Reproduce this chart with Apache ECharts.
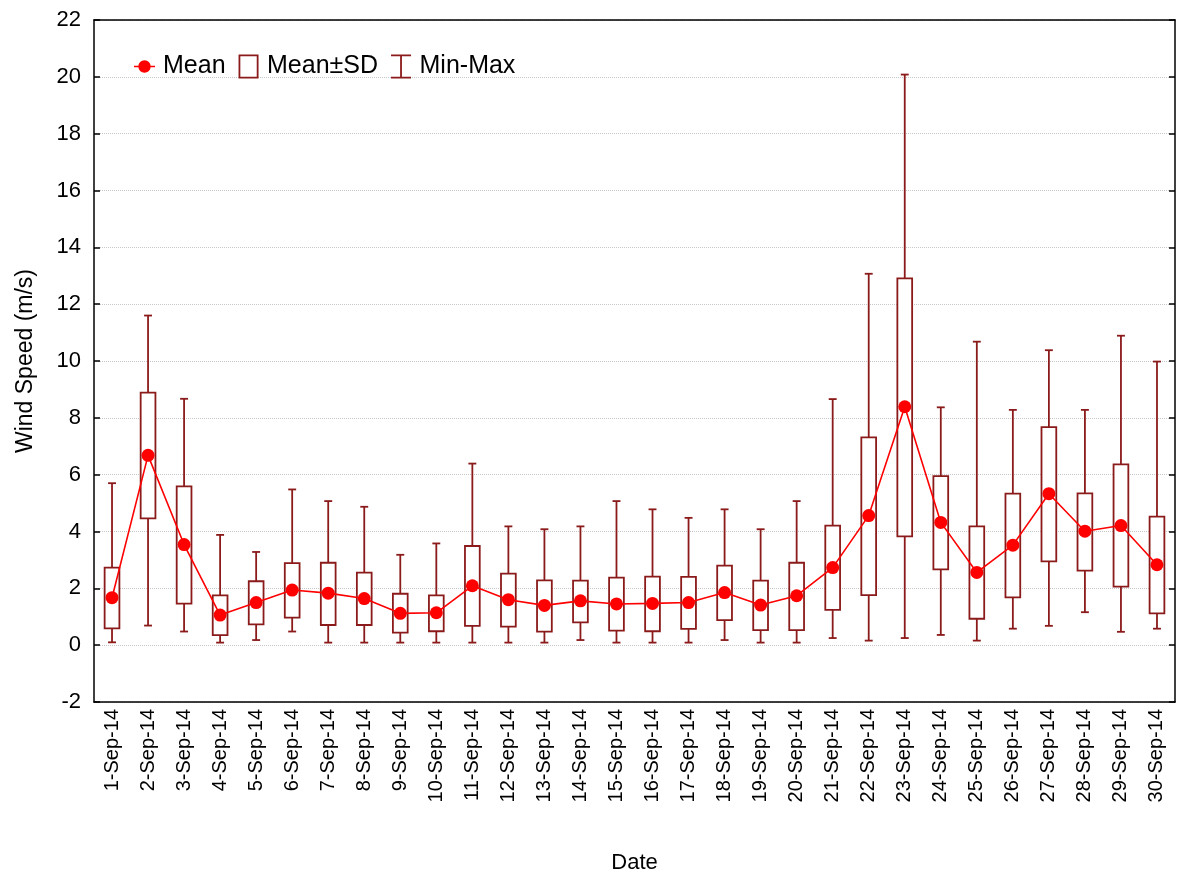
<!DOCTYPE html>
<html>
<head>
<meta charset="utf-8">
<script src="https://cdn.jsdelivr.net/npm/echarts@6/dist/echarts.min.js"></script>
<style>html,body{margin:0;padding:0;background:#fff}#c{width:1179px;height:875px}</style>
</head>
<body>
<div id="c"></div>
<script>
var dates = ['1-Sep-14','2-Sep-14','3-Sep-14','4-Sep-14','5-Sep-14','6-Sep-14','7-Sep-14','8-Sep-14','9-Sep-14','10-Sep-14',
  '11-Sep-14','12-Sep-14','13-Sep-14','14-Sep-14','15-Sep-14','16-Sep-14','17-Sep-14','18-Sep-14','19-Sep-14','20-Sep-14',
  '21-Sep-14','22-Sep-14','23-Sep-14','24-Sep-14','25-Sep-14','26-Sep-14','27-Sep-14','28-Sep-14','29-Sep-14','30-Sep-14'];
var means = [1.67,6.68,3.54,1.06,1.50,1.94,1.83,1.64,1.12,1.14,2.09,1.60,1.40,1.56,1.45,1.47,1.50,1.85,1.41,1.74,2.73,4.56,8.39,4.32,2.56,3.52,5.33,4.01,4.21,2.83];
var sdLow = [0.59,4.46,1.46,0.35,0.73,0.97,0.71,0.71,0.44,0.49,0.68,0.65,0.48,0.80,0.51,0.49,0.57,0.88,0.53,0.53,1.24,1.76,3.83,2.67,0.93,1.68,2.95,2.62,2.06,1.12];
var sdHigh = [2.73,8.89,5.59,1.75,2.25,2.89,2.90,2.55,1.81,1.75,3.49,2.52,2.28,2.27,2.38,2.41,2.40,2.80,2.27,2.90,4.21,7.31,12.91,5.95,4.18,5.33,7.67,5.34,6.36,4.52];
var mins = [0.10,0.69,0.48,0.09,0.18,0.48,0.09,0.09,0.09,0.09,0.09,0.09,0.09,0.18,0.09,0.09,0.09,0.18,0.09,0.09,0.25,0.16,0.25,0.36,0.16,0.58,0.68,1.16,0.47,0.58];
var maxs = [5.70,11.60,8.67,3.88,3.28,5.48,5.07,4.87,3.18,3.58,6.39,4.18,4.08,4.18,5.07,4.78,4.48,4.78,4.08,5.07,8.66,13.07,20.08,8.37,10.68,8.28,10.38,8.28,10.89,9.98];
var yTicks = {min: -2, max: 22, interval: 2};

var DARK = '#8b1a1a';
var FONT = 'Liberation Sans, Arial, sans-serif';

var boxData = dates.map(function(d, i){ return [i, sdLow[i], sdHigh[i]]; });
var whiskerData = dates.map(function(d, i){ return [i, mins[i], maxs[i], sdLow[i], sdHigh[i]]; });

var chart = echarts.init(document.getElementById('c'), null, {renderer: 'canvas'});

var meanIcon = 'path://M0,11.25 L21,11.25 L21,12.75 L0,12.75 Z M4.3,12 A6.2,6.2 0 1,1 16.7,12 A6.2,6.2 0 1,1 4.3,12 Z';
var boxIcon = 'path://M0,0 L20,0 L20,24 L0,24 Z M1.8,1.8 L1.8,22.2 L18.2,22.2 L18.2,1.8 Z';
var whiskerIcon = 'path://M0,0 L20,0 L20,1.8 L10.9,1.8 L10.9,22.2 L20,22.2 L20,24 L0,24 L0,22.2 L9.1,22.2 L9.1,1.8 L0,1.8 Z';

var option = {
  backgroundColor: '#fff',
  animation: false,
  textStyle: {fontFamily: FONT},
  grid: {left: 94, right: 4, top: 20, bottom: 173, containLabel: false, outerBoundsMode: 'none'},
  legend: {
    left: 129, top: 49,
    itemWidth: 21, itemHeight: 24, itemGap: 13,
    symbolKeepAspect: true,
    textStyle: {fontSize: 25, color: '#000', fontFamily: FONT, padding: [0, 0, 0, 3]},
    data: [
      {name: 'Mean', icon: meanIcon},
      {name: 'Mean±SD', icon: boxIcon},
      {name: 'Min-Max', icon: whiskerIcon}
    ]
  },
  xAxis: [{
    type: 'category', data: dates, position: 'bottom', boundaryGap: true,
    name: 'Date', nameLocation: 'middle', nameGap: 150,
    nameTextStyle: {fontSize: 22, color: '#000', fontFamily: FONT},
    axisLine: {onZero: false, lineStyle: {color: '#000', width: 1.5}},
    axisTick: {inside: true, length: 6, interval: 1, alignWithLabel: true, lineStyle: {color: '#000', width: 1.5}},
    axisLabel: {rotate: 90, interval: 0, fontSize: 20, color: '#000', margin: 7, fontFamily: FONT},
    splitLine: {show: false}
  }, {
    type: 'category', data: dates, position: 'top', boundaryGap: true,
    axisLine: {onZero: false, lineStyle: {color: '#000', width: 1.5}},
    axisTick: {inside: true, length: 6, interval: 1, alignWithLabel: true, lineStyle: {color: '#000', width: 1.5}},
    axisLabel: {show: false},
    splitLine: {show: false}
  }],
  yAxis: [{
    type: 'value', min: yTicks.min, max: yTicks.max, interval: yTicks.interval, position: 'left',
    name: 'Wind Speed (m/s)', nameLocation: 'middle', nameGap: 57, nameRotate: 90,
    nameTextStyle: {fontSize: 23, color: '#000', fontFamily: FONT},
    axisLine: {show: true, onZero: false, lineStyle: {color: '#000', width: 1.5}},
    axisTick: {show: true, inside: true, length: 6, lineStyle: {color: '#000', width: 1.5}},
    axisLabel: {fontSize: 22, color: '#000', margin: 13, fontFamily: FONT},
    splitLine: {show: true, lineStyle: {color: '#c8c8c8', type: 'dotted', width: 1}}
  }, {
    type: 'value', min: yTicks.min, max: yTicks.max, interval: yTicks.interval, position: 'right',
    axisLine: {show: true, onZero: false, lineStyle: {color: '#000', width: 1.5}},
    axisTick: {show: true, inside: true, length: 6, lineStyle: {color: '#000', width: 1.5}},
    axisLabel: {show: false},
    splitLine: {show: false}
  }],
  series: [{
    name: 'Min-Max', type: 'custom', z: 2,
    itemStyle: {color: DARK},
    encode: {x: 0, y: [1, 2]},
    data: whiskerData,
    renderItem: function(params, api){
      var i = api.value(0);
      var pMin = api.coord([i, api.value(1)]);
      var pMax = api.coord([i, api.value(2)]);
      var pLo = api.coord([i, api.value(3)]);
      var pHi = api.coord([i, api.value(4)]);
      var band = api.size([1, 0])[0];
      var cap = band * 0.22 / 2;
      var st = {stroke: DARK, lineWidth: 1.8, fill: null};
      return {type: 'group', children: [
        {type: 'line', shape: {x1: pMax[0], y1: pMax[1], x2: pHi[0], y2: pHi[1]}, style: st},
        {type: 'line', shape: {x1: pMax[0] - cap, y1: pMax[1], x2: pMax[0] + cap, y2: pMax[1]}, style: st},
        {type: 'line', shape: {x1: pLo[0], y1: pLo[1], x2: pMin[0], y2: pMin[1]}, style: st},
        {type: 'line', shape: {x1: pMin[0] - cap, y1: pMin[1], x2: pMin[0] + cap, y2: pMin[1]}, style: st}
      ]};
    }
  }, {
    name: 'Mean±SD', type: 'custom', z: 3,
    itemStyle: {color: DARK},
    encode: {x: 0, y: [1, 2]},
    data: boxData,
    renderItem: function(params, api){
      var i = api.value(0);
      var pLo = api.coord([i, api.value(1)]);
      var pHi = api.coord([i, api.value(2)]);
      var band = api.size([1, 0])[0];
      var w = band * 0.41;
      return {type: 'rect', shape: {x: pLo[0] - w / 2, y: pHi[1], width: w, height: pLo[1] - pHi[1]},
        style: {stroke: DARK, lineWidth: 1.8, fill: '#fff'}};
    }
  }, {
    name: 'Mean', type: 'line', z: 5,
    data: means,
    symbol: 'circle', symbolSize: 13,
    itemStyle: {color: '#ff0000'},
    lineStyle: {color: '#ff0000', width: 1.6}
  }]
};
chart.setOption(option);
</script>
</body>
</html>
